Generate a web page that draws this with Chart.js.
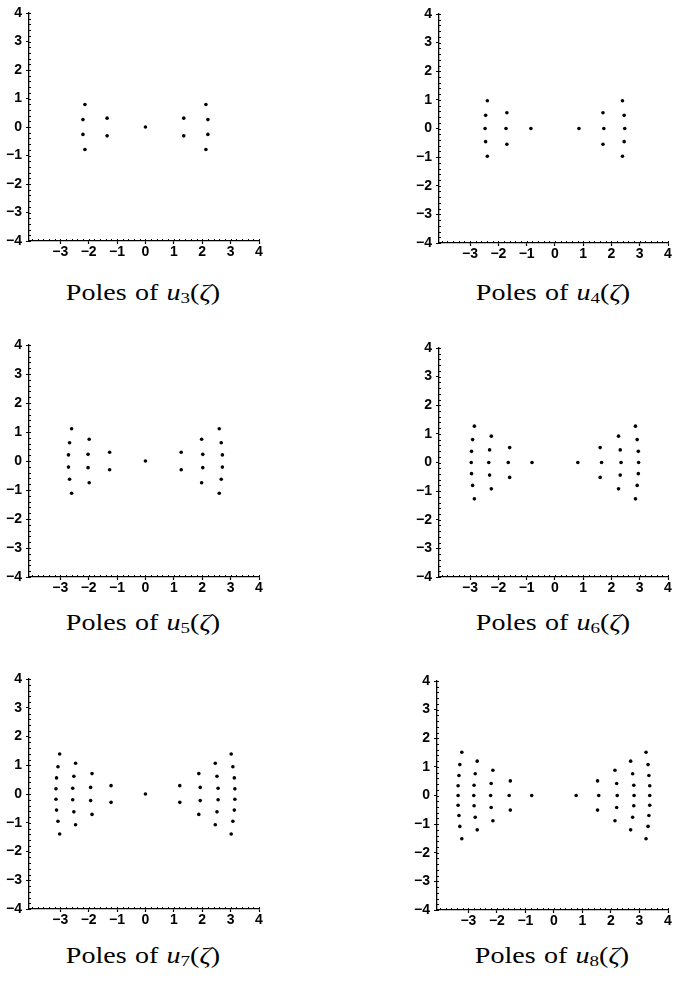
<!DOCTYPE html>
<html>
<head>
<meta charset="utf-8">
<script src="https://cdn.jsdelivr.net/npm/chart.js@4.4.1/dist/chart.umd.min.js"></script>
<style>
  html, body { margin: 0; padding: 0; background: #fff; }
  #page { position: relative; width: 673px; height: 986px; overflow: hidden; }
  canvas { position: absolute; }
  .cap {
    position: absolute; width: 260px; text-align: center;
    font-family: "Liberation Serif", "Times New Roman", serif;
    font-size: 23px; line-height: 23px; color: #000;
    word-spacing: 1px; white-space: nowrap;
    transform: scaleX(1.22); transform-origin: 50% 50%;
  }
  .cap i { font-style: italic; }
  .cap sub { font-size: 0.68em; line-height: 0; vertical-align: -0.22em; }
</style>
</head>
<body>
<div id="page"></div>
<script>
const $ = (sel) => document.querySelector(sel);

// axes
const xRange = [-4.1, 4];
const yRange = [-4, 4];
const xTicks = [-3, -2, -1, 0, 1, 2, 3, 4];
const yTicks = [-4, -3, -2, -1, 0, 1, 2, 3, 4];

// pole locations (x, y)
const polesU3 = [
  [-2.13, 0.79], [-2.20, 0.26], [-2.20, -0.26], [-2.13, -0.79],
  [-1.35, 0.31], [-1.35, -0.31],
  [0, 0],
  [1.35, 0.31], [1.35, -0.31],
  [2.13, 0.79], [2.20, 0.26], [2.20, -0.26], [2.13, -0.79]
];

const polesU4 = [
  [-2.39, 0.97], [-2.45, 0.46], [-2.47, 0], [-2.45, -0.46], [-2.39, -0.97],
  [-1.70, 0.55], [-1.73, 0], [-1.70, -0.55],
  [-0.85, 0],
  [0.85, 0],
  [1.70, 0.55], [1.73, 0], [1.70, -0.55],
  [2.39, 0.97], [2.45, 0.46], [2.47, 0], [2.45, -0.46], [2.39, -0.97]
];

const polesU5 = [
  [-2.60, 1.11], [-2.67, 0.63], [-2.71, 0.21], [-2.71, -0.21], [-2.67, -0.63], [-2.60, -1.11],
  [-1.98, 0.75], [-2.02, 0.23], [-2.02, -0.23], [-1.98, -0.75],
  [-1.26, 0.30], [-1.26, -0.30],
  [0, 0],
  [1.26, 0.30], [1.26, -0.30],
  [1.98, 0.75], [2.02, 0.23], [2.02, -0.23], [1.98, -0.75],
  [2.60, 1.11], [2.67, 0.63], [2.71, 0.21], [2.71, -0.21], [2.67, -0.63], [2.60, -1.11]
];

const polesU6 = [
  [-2.85, 1.27], [-2.91, 0.80], [-2.95, 0.39], [-2.96, 0], [-2.95, -0.39], [-2.91, -0.80], [-2.85, -1.27],
  [-2.25, 0.92], [-2.31, 0.44], [-2.34, 0], [-2.31, -0.44], [-2.25, -0.92],
  [-1.60, 0.52], [-1.65, 0], [-1.60, -0.52],
  [-0.81, 0],
  [0.81, 0],
  [1.60, 0.52], [1.65, 0], [1.60, -0.52],
  [2.25, 0.92], [2.31, 0.44], [2.34, 0], [2.31, -0.44], [2.25, -0.92],
  [2.85, 1.27], [2.91, 0.80], [2.95, 0.39], [2.96, 0], [2.95, -0.39], [2.91, -0.80], [2.85, -1.27]
];

const polesU7 = [
  [-3.02, 1.39], [-3.08, 0.95], [-3.13, 0.56], [-3.15, 0.18], [-3.15, -0.18], [-3.13, -0.56], [-3.08, -0.95], [-3.02, -1.39],
  [-2.46, 1.07], [-2.52, 0.62], [-2.56, 0.20], [-2.56, -0.20], [-2.52, -0.62], [-2.46, -1.07],
  [-1.88, 0.71], [-1.93, 0.23], [-1.93, -0.23], [-1.88, -0.71],
  [-1.21, 0.29], [-1.21, -0.29],
  [0, 0],
  [1.21, 0.29], [1.21, -0.29],
  [1.88, 0.71], [1.93, 0.23], [1.93, -0.23], [1.88, -0.71],
  [2.46, 1.07], [2.52, 0.62], [2.56, 0.20], [2.56, -0.20], [2.52, -0.62], [2.46, -1.07],
  [3.02, 1.39], [3.08, 0.95], [3.13, 0.56], [3.15, 0.18], [3.15, -0.18], [3.13, -0.56], [3.08, -0.95], [3.02, -1.39]
];

const polesU8 = [
  [-3.23, 1.51], [-3.30, 1.08], [-3.33, 0.70], [-3.36, 0.34], [-3.36, 0], [-3.36, -0.34], [-3.33, -0.70], [-3.30, -1.08], [-3.23, -1.51],
  [-2.69, 1.20], [-2.76, 0.76], [-2.80, 0.36], [-2.81, 0], [-2.80, -0.36], [-2.76, -0.76], [-2.69, -1.20],
  [-2.14, 0.88], [-2.20, 0.42], [-2.22, 0], [-2.20, -0.42], [-2.14, -0.88],
  [-1.53, 0.51], [-1.57, 0], [-1.53, -0.51],
  [-0.78, 0],
  [0.78, 0],
  [1.53, 0.51], [1.57, 0], [1.53, -0.51],
  [2.14, 0.88], [2.20, 0.42], [2.22, 0], [2.20, -0.42], [2.14, -0.88],
  [2.69, 1.20], [2.76, 0.76], [2.80, 0.36], [2.81, 0], [2.80, -0.36], [2.76, -0.76], [2.69, -1.20],
  [3.23, 1.51], [3.30, 1.08], [3.33, 0.70], [3.36, 0.34], [3.36, 0], [3.36, -0.34], [3.33, -0.70], [3.30, -1.08], [3.23, -1.51]
];

const panels = [
  { n: 3, poles: polesU3, area: [29, 13, 259, 241],  capY: 300 },
  { n: 4, poles: polesU4, area: [439, 14, 668, 243], capY: 300 },
  { n: 5, poles: polesU5, area: [29, 345, 259, 577], capY: 630 },
  { n: 6, poles: polesU6, area: [439, 348, 668, 577], capY: 630 },
  { n: 7, poles: polesU7, area: [29, 679, 259, 909], capY: 963 },
  { n: 8, poles: polesU8, area: [437, 681, 668, 910], capY: 963 }
];

const fmtTick = (v) => (v < 0 ? "\u2212" + Math.abs(v) : String(v));
const tickFont = { family: "'Liberation Sans', Arial, sans-serif", size: 14, weight: "bold" };

/* small inward ticks every 0.2 along both axes */
const minorTicks = {
  id: "minorTicks",
  afterDraw(chart) {
    const { ctx, scales: { x, y } } = chart;
    ctx.save();
    ctx.strokeStyle = "#000";
    ctx.lineWidth = 1;
    ctx.beginPath();
    for (let k = Math.ceil(xRange[0] * 5); k <= xRange[1] * 5; k++) {
      const px = Math.round(x.getPixelForValue(k / 5)) + 0.5;
      ctx.moveTo(px, y.bottom);
      ctx.lineTo(px, y.bottom - 2);
    }
    for (let k = yRange[0] * 5; k <= yRange[1] * 5; k++) {
      const py = Math.round(y.getPixelForValue(k / 5)) + 0.5;
      ctx.moveTo(x.left, py);
      ctx.lineTo(x.left + 2, py);
    }
    ctx.stroke();
    ctx.restore();
  }
};

function renderPanel(p) {
  const [L, T, R, B] = p.area;
  const padL = 30, padT = 14, padR = 14, padB = 22;
  const cv = document.createElement("canvas");
  const w = R - L + padL + padR, h = B - T + padT + padB;
  cv.width = w; cv.height = h;
  cv.style.left = (L - padL) + "px";
  cv.style.top = (T - padT) + "px";
  cv.style.width = w + "px"; cv.style.height = h + "px";
  $("#page").appendChild(cv);

  new Chart(cv.getContext("2d"), {
    type: "scatter",
    data: {
      datasets: [{
        data: p.poles.map(([x, y]) => ({ x, y })),
        pointRadius: 1.8,
        pointBackgroundColor: "#000",
        pointBorderWidth: 0
      }]
    },
    options: {
      responsive: false,
      animation: false,
      devicePixelRatio: 1,
      layout: { padding: { left: 0, top: padT, right: padR, bottom: 0 } },
      plugins: { legend: { display: false }, tooltip: { enabled: false } },
      scales: {
        x: {
          type: "linear", min: xRange[0], max: xRange[1],
          afterBuildTicks: (s) => { s.ticks = xTicks.map(v => ({ value: v })); },
          afterFit: (s) => { s.height = padB; },
          border: { color: "#000", width: 1.3 },
          grid: { drawOnChartArea: false, tickLength: 3, tickColor: "#000", tickWidth: 1.2 },
          ticks: { color: "#000", font: tickFont, padding: 0, maxRotation: 0, autoSkip: false, callback: fmtTick }
        },
        y: {
          type: "linear", min: yRange[0], max: yRange[1],
          afterBuildTicks: (s) => { s.ticks = yTicks.map(v => ({ value: v })); },
          afterFit: (s) => { s.width = padL; },
          border: { color: "#000", width: 1.3 },
          grid: { drawOnChartArea: false, tickLength: 3, tickColor: "#000", tickWidth: 1.2 },
          ticks: { color: "#000", font: tickFont, padding: 4, autoSkip: false, callback: fmtTick }
        }
      }
    },
    plugins: [minorTicks]
  });

  const cap = document.createElement("div");
  cap.className = "cap";
  cap.style.left = ((L + R) / 2 - 131) + "px";
  cap.style.top = (p.capY - 19) + "px";
  cap.innerHTML = `Poles of <i>u</i><sub>${p.n}</sub>(<i>ζ</i>)`;
  $("#page").appendChild(cap);
}

panels.forEach(renderPanel);
</script>
</body>
</html>
